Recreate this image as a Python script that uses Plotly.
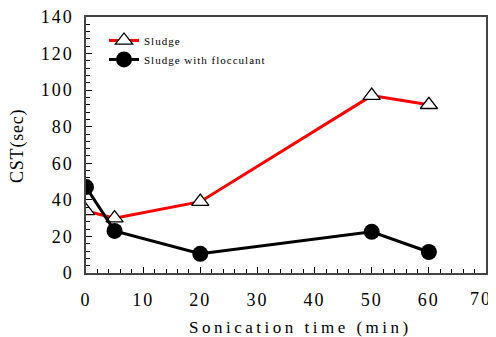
import plotly.graph_objects as go

time_sludge = [0, 5, 20, 50, 60]
cst_sludge = [34, 30, 39, 97, 92]
time_floc = [0, 5, 20, 50, 60]
cst_floc = [47, 23, 10.5, 22.5, 11.5]
x_ticks = [0, 10, 20, 30, 40, 50, 60, 70]
y_ticks = [0, 20, 40, 60, 80, 100, 120, 140]

serif = "Liberation Serif"


def spaced(s, px):
    return f'<span style="letter-spacing:{px}px">{s}</span>'


fig = go.Figure()
fig.add_trace(go.Scatter(
    x=time_sludge, y=cst_sludge, name=spaced("Sludge", 1.0), mode="lines+markers",
    line=dict(color="#ff0000", width=3),
    marker=dict(symbol="triangle-up", size=15, color="white",
                line=dict(color="black", width=1.3)),
))
fig.add_trace(go.Scatter(
    x=time_floc, y=cst_floc, name=spaced("Sludge with flocculant", 1.0), mode="lines+markers",
    line=dict(color="black", width=3),
    marker=dict(symbol="circle", size=16, color="black"),
))

# last x tick label sits at the window edge in the reference; draw it slightly inset
x_text = [spaced(str(v), 2) for v in x_ticks[:-1]] + [""]
fig.add_annotation(text=spaced(str(x_ticks[-1]), 2), xref="x", yref="paper",
                   x=x_ticks[-1], xshift=-5, y=0, yshift=-26, showarrow=False,
                   xanchor="center", yanchor="middle",
                   font=dict(family=serif, size=18))

fig.add_annotation(text=spaced("Sonication time (min)", 3.5), xref="paper", yref="paper",
                   x=0.535, y=-0.211, showarrow=False, xanchor="center", yanchor="middle",
                   font=dict(family=serif, size=17))
fig.add_annotation(text=spaced("CST(sec)", 0.8), xref="paper", yref="paper",
                   x=-0.1725, y=0.496, showarrow=False, textangle=-90,
                   xanchor="center", yanchor="middle",
                   font=dict(family=serif, size=18))

fig.update_layout(
    width=502, height=337,
    margin=dict(l=78, r=24, t=9, b=72),
    paper_bgcolor="white", plot_bgcolor="white",
    font=dict(family=serif, color="black", size=17),
    showlegend=True,
    legend=dict(x=0.045, y=0.965, xanchor="left", yanchor="top",
                bgcolor="rgba(0,0,0,0)", font=dict(size=11, family=serif),
                itemwidth=30, tracegroupgap=0),
    xaxis=dict(
        range=[0, 70], showgrid=False, zeroline=False, automargin=False,
        tickmode="array", tickvals=x_ticks, ticktext=x_text,
        showline=True, linecolor="#444444", linewidth=1.5, mirror=True,
        ticks="inside", ticklen=6, tickcolor="black",
        minor=dict(dtick=2, ticks="inside", ticklen=4, tickcolor="black"),
        ticklabelstandoff=10, tickfont=dict(family=serif, size=18),
        ticklabeloverflow="allow",
    ),
    yaxis=dict(
        range=[0, 140], showgrid=False, zeroline=False, automargin=False,
        tickmode="array", tickvals=y_ticks, ticktext=[spaced(str(v), 2) for v in y_ticks],
        showline=True, linecolor="#444444", linewidth=1.5, mirror=True,
        ticks="inside", ticklen=6, tickcolor="black",
        minor=dict(dtick=4, ticks="inside", ticklen=4, tickcolor="black"),
        ticklabelstandoff=7, tickfont=dict(family=serif, size=18),
        ticklabeloverflow="allow",
    ),
)

fig.write_html("out.html")
